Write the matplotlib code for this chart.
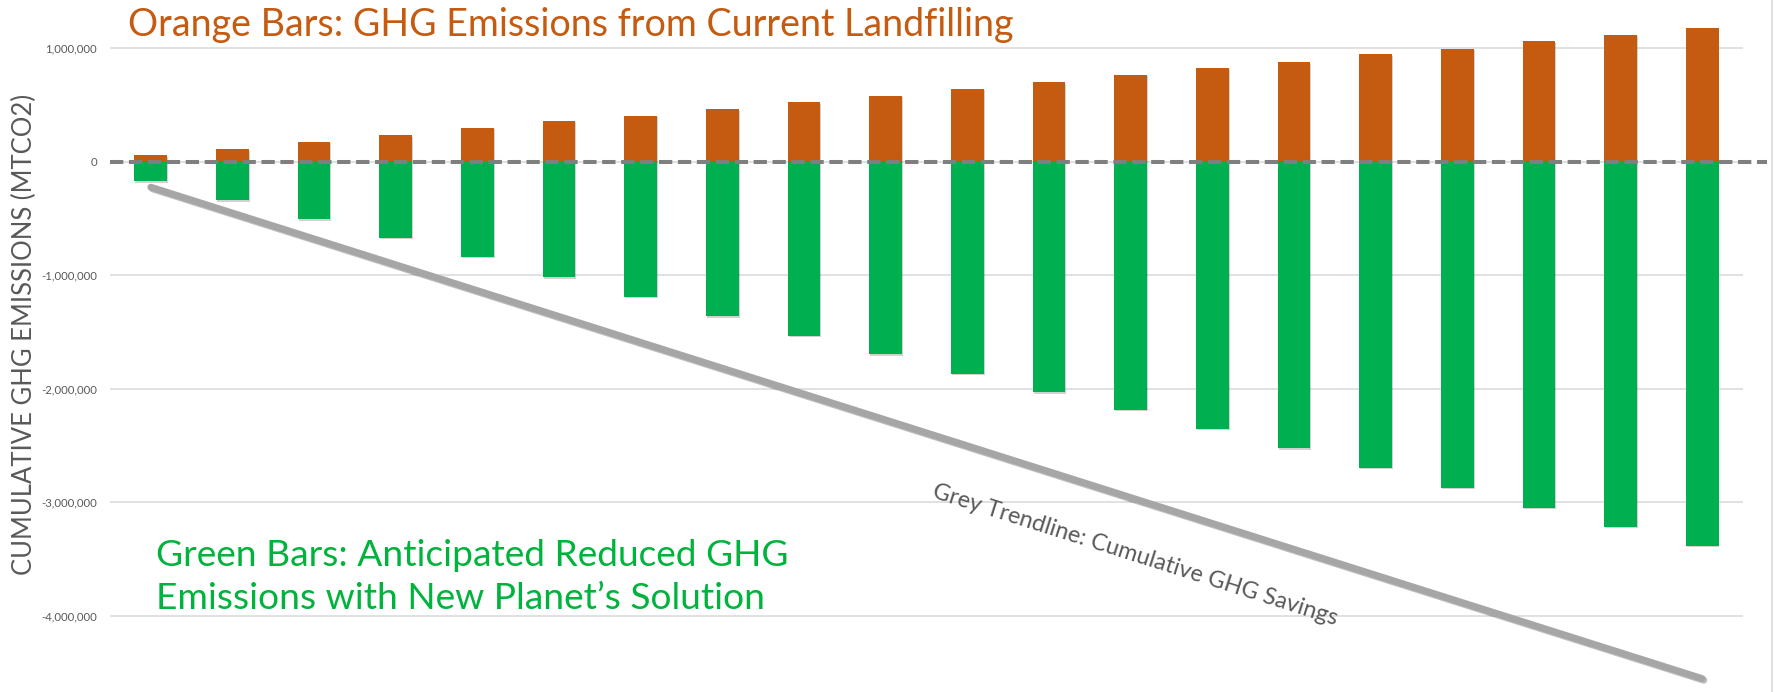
import numpy as np
import matplotlib
matplotlib.use("Agg")
import matplotlib.pyplot as plt
import matplotlib.patheffects as pe
from matplotlib.lines import Line2D
from matplotlib.ticker import FuncFormatter

plt.rcParams['font.family'] = ['Lato', 'DejaVu Sans']

# cumulative values per year, MTCO2
years = list(range(1, 21))
landfill = [53e3, 108e3, 173e3, 229e3, 296e3, 356e3, 401e3, 459e3, 521e3, 580e3,
            642e3, 696e3, 764e3, 824e3, 873e3, 943e3, 992e3, 1058e3, 1116e3, 1179e3]
reduced = [-176e3, -343e3, -510e3, -674e3, -840e3, -1020e3, -1191e3, -1362e3, -1533e3, -1696e3,
           -1868e3, -2031e3, -2186e3, -2355e3, -2524e3, -2694e3, -2875e3, -3047e3, -3214e3, -3381e3]
yticks = [1e6, 0, -1e6, -2e6, -3e6, -4e6]

title_txt = "Orange Bars: GHG Emissions from Current Landfilling"
green_txt = ["Green Bars: Anticipated Reduced GHG", "Emissions with New Planet\u2019s Solution"]
trend_txt = "Grey Trendline: Cumulative GHG Savings"
ylabel_txt = "CUMULATIVE GHG EMISSIONS (MTCO2)"

orange = "#C55A11"
green = "#00B050"
green_text = "#00B33C"
grey_txt = "#595959"

W, H = 1775, 692
fig = plt.figure(figsize=(W/100, H/100), dpi=100)
ax = fig.add_axes([110/W, 0, 1633/W, 1])

x = np.arange(len(years))
# savings = reduced minus landfill, shown as a linear trendline
savings = np.array(reduced) - np.array(landfill)
slope, icpt = np.polyfit(x, savings, 1)

shadow = [pe.SimplePatchShadow(offset=(0.7, -1.0), alpha=0.18, shadow_rgbFace='k'), pe.Normal()]
ax.bar(x, landfill, width=0.4, color=orange, zorder=2, path_effects=shadow)
ax.bar(x, reduced, width=0.4, color=green, zorder=2, path_effects=shadow)

ax.plot(x, slope*x + icpt, color="#A6A6A6", lw=5, solid_capstyle='round', zorder=3,
        path_effects=[pe.SimpleLineShadow(offset=(1.2, -1.2), alpha=0.25), pe.Normal()])

# dashed zero line, runs a bit past the grid
ax.axhline(0, xmin=0, xmax=(1767-110)/1633, color="#7F7F7F", lw=2.9,
           dashes=(3.3, 1.4), clip_on=False, zorder=4)

zero_px, px_per_m = 161.5, 113.6
ax.set_ylim(-(H - zero_px)/px_per_m*1e6, zero_px/px_per_m*1e6)
ax.set_xlim(-0.5, len(years) - 0.5)
ax.set_yticks(yticks)
ax.yaxis.set_major_formatter(FuncFormatter(lambda v, p: f"{v:,.0f}"))
ax.set_xticks([])
ax.tick_params(axis='y', length=0, pad=9.4, labelsize=8.2, labelcolor=grey_txt)
for s in ax.spines.values():
    s.set_visible(False)
ax.grid(axis='y', color="#D9D9D9", lw=1.1, zorder=0)
ax.set_axisbelow(True)

fig.add_artist(Line2D([1772/W, 1772/W], [0, 1], color="#D9D9D9", lw=1.2))

r = fig.canvas.get_renderer()
def fit(t, target, use_height=False):
    bb = t.get_window_extent(renderer=r)
    size = bb.height if use_height else bb.width
    t.set_fontsize(t.get_fontsize()*target/size)

t = fig.text(128/W, 1-36/H, title_txt, color=orange, fontsize=26, ha='left', va='baseline')
fit(t, 884)

g1 = fig.text(156/W, 1-566/H, green_txt[0], color=green_text, fontsize=26, ha='left', va='baseline')
fit(g1, 631)
g2 = fig.text(156/W, 1-609/H, green_txt[1], color=green_text, fontsize=g1.get_fontsize(),
              ha='left', va='baseline')

tr = fig.text(1135/W, 1-555/H, trend_txt, color=grey_txt, fontsize=15, ha='center', va='center',
              rotation_mode='anchor')
fit(tr, 425)
tr.set_rotation(-17.6)

yl = fig.text(24/W, 1-334/H, ylabel_txt, color=grey_txt, fontsize=18, rotation=90,
              ha='center', va='center')
fit(yl, 479, use_height=True)

fig.savefig("out.png", dpi=100)
